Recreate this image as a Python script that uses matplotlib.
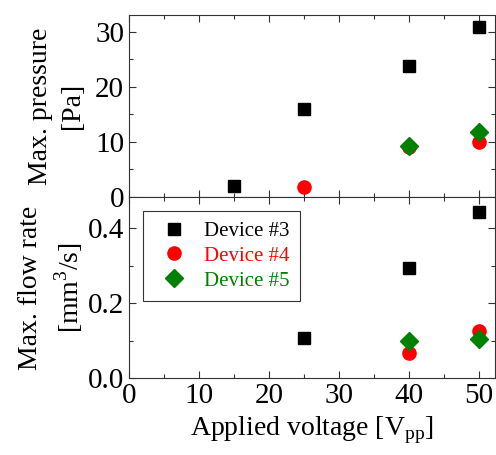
import matplotlib
matplotlib.use("Agg")
from matplotlib import pyplot as plt
from matplotlib.ticker import MultipleLocator

plt.rcParams["font.family"] = ["Liberation Serif", "DejaVu Serif"]
plt.rcParams["mathtext.fontset"] = "custom"
plt.rcParams["mathtext.rm"] = "Liberation Serif"

# Max. pressure [Pa]
dev3_v_p = [15, 25, 40, 50]
dev3_p = [2.0, 15.9, 23.7, 30.9]
dev4_v_p = [25, 40, 50]
dev4_p = [1.9, 9.0, 10.0]
dev5_v_p = [40, 50]
dev5_p = [9.3, 11.8]

# Max. flow rate [mm^3/s]
dev3_v_q = [25, 40, 50]
dev3_q = [0.108, 0.295, 0.443]
dev4_v_q = [40, 50]
dev4_q = [0.066, 0.125]
dev5_v_q = [40, 50]
dev5_q = [0.100, 0.104]

labels = ["Device #3", "Device #4", "Device #5"]
colors = ["black", "red", "green"]
markers = ["s", "o", "D"]
sizes = [8.5, 9.5, 9]

fig = plt.figure(figsize=(4.96, 4.55), dpi=100)
ax1 = fig.add_axes([0.26, 0.567, 0.738, 0.4])
ax2 = fig.add_axes([0.26, 0.169, 0.738, 0.398], sharex=ax1)

top_data = [(dev3_v_p, dev3_p), (dev4_v_p, dev4_p), (dev5_v_p, dev5_p)]
bot_data = [(dev3_v_q, dev3_q), (dev4_v_q, dev4_q), (dev5_v_q, dev5_q)]
for (x, y), c, m, s in zip(top_data, colors, markers, sizes):
    ax1.plot(x, y, ls="none", marker=m, color=c, ms=s)
handles = []
for (x, y), c, m, s, lab in zip(bot_data, colors, markers, sizes, labels):
    (h,) = ax2.plot(x, y, ls="none", marker=m, color=c, ms=s, label=lab)
    handles.append(h)

ax1.set_xlim(0, 52.3)
ax1.set_ylim(0, 33)
ax2.set_ylim(0, 0.483)

for ax in (ax1, ax2):
    ax.tick_params(which="both", direction="in", top=True, right=True,
                   labelsize=21, width=0.8, color="#333333")
    ax.tick_params(which="major", length=5)
    ax.tick_params(which="minor", length=3)
    ax.xaxis.set_major_locator(MultipleLocator(10))
    ax.xaxis.set_minor_locator(MultipleLocator(5))
    for sp in ax.spines.values():
        sp.set_color("#333333")

ax1.yaxis.set_major_locator(MultipleLocator(10))
ax1.yaxis.set_minor_locator(MultipleLocator(5))
ax2.yaxis.set_major_locator(MultipleLocator(0.2))
ax2.yaxis.set_minor_locator(MultipleLocator(0.1))
ax2.yaxis.set_major_formatter(plt.FormatStrFormatter("%.1f"))
ax1.tick_params(labelbottom=False)

ax1.set_ylabel("Max. pressure\n[Pa]", fontsize=20, linespacing=1.35)
ax2.set_ylabel("Max. flow rate\n[mm$^3$/s]", fontsize=20, linespacing=1.35)
ax2.set_xlabel("Applied voltage [V$_{\\mathrm{pp}}$]", fontsize=20)
ax1.yaxis.set_label_coords(-0.12, 0.5)
ax2.yaxis.set_label_coords(-0.12, 0.5)

leg = ax2.legend(handles=handles, loc="upper left", bbox_to_anchor=(0.038, 0.923),
                 fontsize=15, frameon=True, fancybox=False, edgecolor="black",
                 handletextpad=0.45, borderpad=0.5, labelspacing=0.25,
                 borderaxespad=0)
leg.get_frame().set_linewidth(0.8)
for t, c in zip(leg.get_texts(), colors):
    t.set_color(c)

fig.savefig("out.png", dpi=100, facecolor="w")
